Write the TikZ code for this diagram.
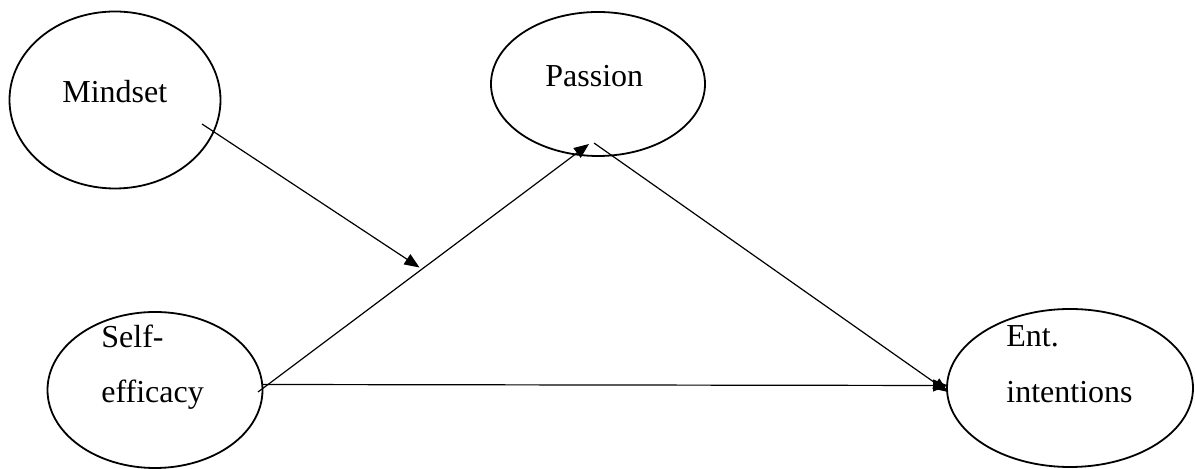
\documentclass[tikz,border=0pt]{standalone}
\usepackage{fontspec}
\setmainfont{Liberation Serif}
\usetikzlibrary{shapes.geometric,arrows.meta}
\begin{document}
\begin{tikzpicture}[x=0.5pt,y=-0.5pt,
  latent/.style={draw,ellipse,line width=0.9pt,inner sep=0pt},
  lbl/.style={anchor=base west,inner sep=0pt,font=\fontsize{16}{19}\selectfont},
  path/.style={line width=0.6pt,-{Triangle[length=7.5pt,width=6pt]}}]
\useasboundingbox (0,0) rectangle (1195,469);
\node[latent,minimum width=105.5pt,minimum height=88.5pt] (mind) at (115,100) {};
\node[latent,minimum width=107pt,minimum height=72pt] (pass) at (598,84) {};
\node[latent,minimum width=107.5pt,minimum height=78pt] (self) at (155,390) {};
\node[latent,minimum width=123pt,minimum height=79pt] (ent) at (1070,388) {};
\node[lbl] (tmind) at (62,103) {Mindset};
\node[lbl] (tpass) at (545,87) {Passion};
\node[lbl] (tself1) at (101,348) {Self-};
\node[lbl] (tself2) at (101,403) {efficacy};
\node[lbl] (tent1) at (1006,347) {Ent.};
\node[lbl] (tent2) at (1006,403) {intentions};
\coordinate (mstart) at (202,124);
\coordinate (mod) at (419.5,267.5);
\coordinate (sstart) at (258,392);
\coordinate (sh) at (262,384.5);
\coordinate (ptip) at (589,144);
\coordinate (pstart) at (594,143);
\coordinate (etip1) at (948,392);
\coordinate (etip2) at (948,385.5);
\draw[path] (sstart) -- (ptip);
\draw[path] (mstart) -- (mod);
\draw[path] (pstart) -- (etip1);
\draw[path] (sh) -- (etip2);
\end{tikzpicture}
\end{document}
